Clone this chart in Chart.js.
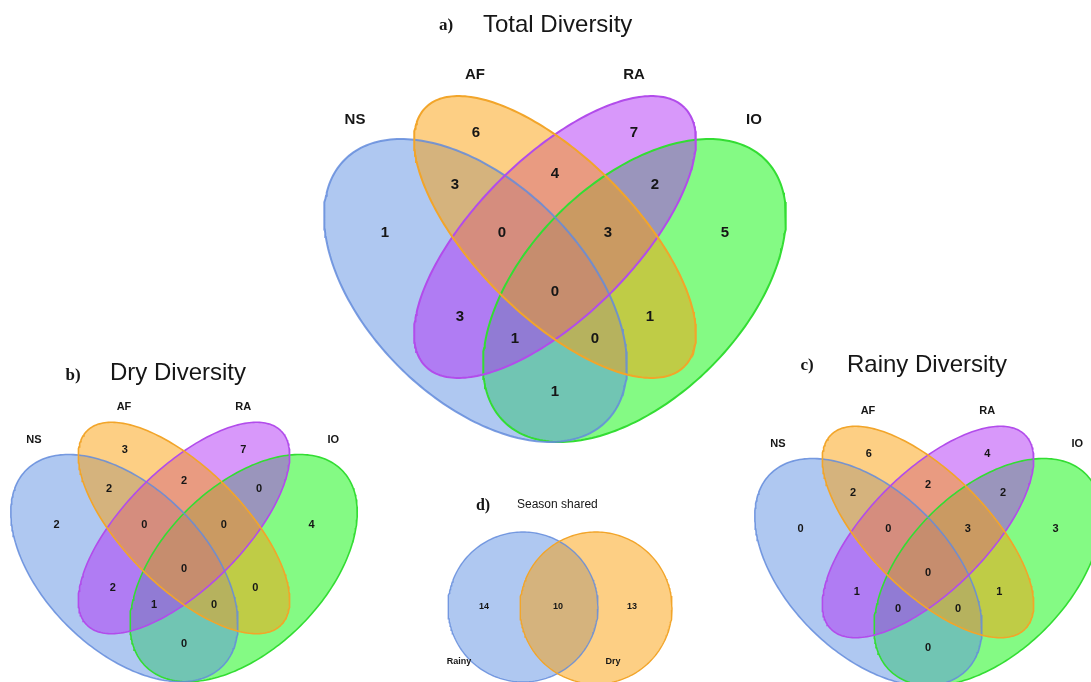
<!DOCTYPE html>
<html lang="en">
<head>
    <meta charset="UTF-8">
    <style>
        html, body { margin: 0; padding: 0; background: #fff; }
        #wrap { position: relative; width: 1091px; height: 682px; }
    </style>
</head>
<body>
<div id="wrap"><canvas id="venn" width="1091" height="682"></canvas></div>

<script src="https://cdn.jsdelivr.net/npm/chart.js"></script>
<script>
    // ---- data ----
    const setNames = ["NS", "AF", "RA", "IO"];
    const regionNames = ["NS", "AF", "RA", "IO", "NS&AF", "AF&RA", "RA&IO", "NS&AF&RA", "AF&RA&IO",
                         "NS&AF&RA&IO", "NS&RA", "AF&IO", "NS&RA&IO", "NS&AF&IO", "NS&IO"];
    const totalCounts = [1, 6, 7, 5, 3, 4, 2, 0, 3, 0, 3, 1, 1, 0, 1];
    const dryCounts   = [2, 3, 7, 4, 2, 2, 0, 0, 0, 0, 2, 0, 1, 0, 0];
    const rainyCounts = [0, 6, 4, 3, 2, 2, 2, 0, 3, 0, 1, 1, 0, 0, 0];
    const seasonNames = ["Rainy", "Dry"];
    const seasonCounts = [14, 10, 13];   // rainy only, both, dry only

    // ---- layout (offsets from a panel centre, at full size) ----
    const regionOffsets = [[-170, -4], [-79, -104], [79, -104], [170, -4], [-100, -52], [0, -63], [100, -52],
                           [-53, -4], [53, -4], [0, 55], [-95, 80], [95, 80], [-40, 102], [40, 102], [0, 155]];
    const setLabelOffsets = [[-200, -117], [-80, -162], [79, -162], [199, -117]];
    const ellipses = [   // dx, dy, a, b, angle
        [-79.5, 53.5, 185, 108, 45],
        [0, 0, 183, 79, 45],
        [0, 0, 183, 79, -45],
        [79.5, 53.5, 185, 108, -45]
    ];
    const layerOrder = [3, 1, 2, 4];   // lower = drawn on top (AF over RA over NS over IO)
    const fills   = ["rgba(95,145,228,0.5)", "rgba(251,160,10,0.5)", "rgba(178,50,245,0.5)", "rgba(10,245,10,0.5)"];
    const strokes = ["rgba(100,140,220,0.85)", "#f2a52a", "#b24ceb", "#33dd33"];

    const panels = [
        { counts: totalCounts, cx: 555, cy: 237, s: 1 },
        { counts: dryCounts,   cx: 184, cy: 528, s: 0.75 },
        { counts: rainyCounts, cx: 928, cy: 532, s: 0.75 }
    ];

    function ellipsePts(cx, cy, a, b, deg) {
        const r = deg * Math.PI / 180, pts = [];
        for (let i = 0; i <= 240; i++) {
            const t = i / 240 * Math.PI * 2;
            const ex = a * Math.cos(t), ey = b * Math.sin(t);
            pts.push({ x: cx + ex * Math.cos(r) - ey * Math.sin(r), y: cy + ex * Math.sin(r) + ey * Math.cos(r) });
        }
        return pts;
    }

    function shape(pts, fill, stroke, width, order) {
        // filled body underneath, outline drawn above all the fills
        return [
            { data: pts, fill: "shape", backgroundColor: fill, borderWidth: 0, borderColor: "rgba(0,0,0,0)",
              pointRadius: 0, tension: 0, order: 10 + order },
            { data: pts, fill: false, borderColor: stroke, borderWidth: width, pointRadius: 0, tension: 0, order: 5 + order }
        ];
    }

    function textSet(points, texts, font, align) {
        return {
            data: points, texts: texts, textFont: font, textAlign: align || "center",
            showLine: false, pointRadius: 0, borderWidth: 0, fill: false, order: 0
        };
    }

    const datasets = [];
    panels.forEach(p => {
        ellipses.forEach((e, k) => {
            const pts = ellipsePts(p.cx + e[0] * p.s, p.cy + e[1] * p.s, e[2] * p.s, e[3] * p.s, e[4]);
            datasets.push(...shape(pts, fills[k], strokes[k], p.s === 1 ? 2 : 1.6, layerOrder[k]));
        });
        const fs = Math.round(15 * p.s);
        datasets.push(textSet(regionOffsets.map(o => ({ x: p.cx + o[0] * p.s, y: p.cy + o[1] * p.s })),
            p.counts.map(String), "bold " + fs + "px 'Liberation Sans', Arial, sans-serif"));
        datasets.push(textSet(setLabelOffsets.map(o => ({ x: p.cx + o[0] * p.s, y: p.cy + o[1] * p.s })),
            setNames, "bold " + fs + "px 'Liberation Sans', Arial, sans-serif"));
    });

    // season shared circles (Dry drawn over Rainy)
    datasets.push(...shape(ellipsePts(523, 607, 75, 75, 0), fills[0], strokes[0], 1.4, 3));
    datasets.push(...shape(ellipsePts(596, 608, 76, 76, 0), fills[1], strokes[1], 1.4, 1));
    datasets.push(textSet([{ x: 484, y: 607 }, { x: 558, y: 607 }, { x: 632, y: 607 }],
        seasonCounts.map(String), "bold 9px 'Liberation Sans', Arial, sans-serif"));
    datasets.push(textSet([{ x: 459, y: 662 }, { x: 613, y: 662 }],
        seasonNames, "bold 9px 'Liberation Sans', Arial, sans-serif"));

    // panel titles
    const serif = "bold 17px 'Liberation Serif', 'Times New Roman', serif";
    const sans = "24px 'Liberation Sans', Arial, sans-serif";
    datasets.push(textSet([{ x: 446, y: 26 }, { x: 73, y: 376 }, { x: 807, y: 366 }], ["a)", "b)", "c)"], serif));
    datasets.push(textSet([{ x: 483, y: 25 }, { x: 110, y: 373 }, { x: 847, y: 365 }],
        ["Total Diversity", "Dry Diversity", "Rainy Diversity"], sans, "left"));
    datasets.push(textSet([{ x: 483, y: 506 }], ["d)"], "bold 16px 'Liberation Serif', 'Times New Roman', serif"));
    datasets.push(textSet([{ x: 517, y: 505 }], ["Season shared"], "12px 'Liberation Sans', Arial, sans-serif", "left"));

    const textPlugin = {
        id: "vennText",
        afterDatasetsDraw(chart) {
            const ctx = chart.ctx;
            chart.data.datasets.forEach((ds, i) => {
                if (!ds.texts) return;
                const meta = chart.getDatasetMeta(i);
                ctx.save();
                ctx.font = ds.textFont;
                ctx.fillStyle = "#161616";
                ctx.textAlign = ds.textAlign;
                ctx.textBaseline = "middle";
                meta.data.forEach((pt, j) => ctx.fillText(ds.texts[j], pt.x, pt.y));
                ctx.restore();
            });
        }
    };

    new Chart(document.getElementById("venn"), {
        type: "line",
        data: { datasets: datasets },
        options: {
            responsive: false,
            animation: false,
            events: [],
            layout: { padding: 0 },
            plugins: { legend: { display: false }, tooltip: { enabled: false } },
            scales: {
                x: { type: "linear", min: 0, max: 1091, display: false },
                y: { type: "linear", min: 0, max: 682, reverse: true, display: false }
            }
        },
        plugins: [textPlugin]
    });
</script>
</body>
</html>
